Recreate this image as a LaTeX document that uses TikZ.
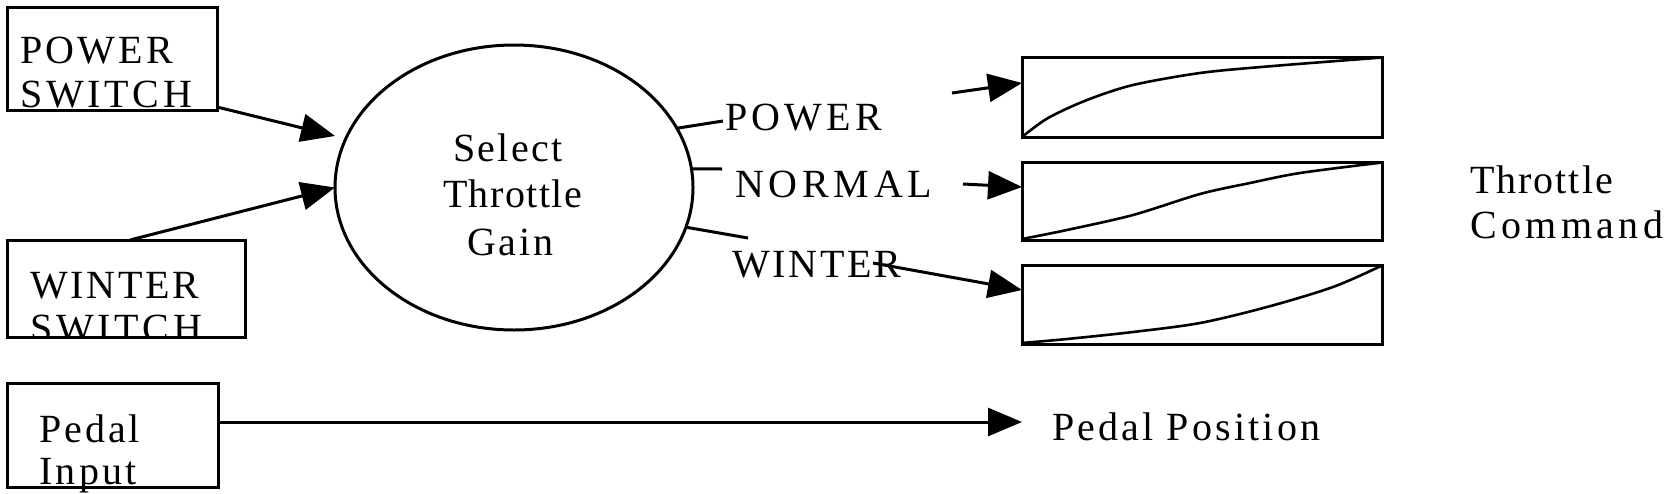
\documentclass[tikz,border=0pt]{standalone}
\usepackage{fontspec}
\setmainfont{Liberation Serif}
\usetikzlibrary{arrows.meta,shapes.geometric,calc}
\begin{document}
\begin{tikzpicture}[x=1pt,y=-1pt,
  box/.style={draw, line width=3pt, rectangle, inner sep=0pt, outer sep=0pt},
  oval/.style={draw, line width=3pt, ellipse, inner sep=0pt, outer sep=0pt},
  lbl/.style={inner sep=0pt, outer sep=0pt, anchor=base west},
  lsp/.style={font={\fontsize{40}{46}\selectfont\addfontfeature{LetterSpace=#1}}},
  conn/.style={line width=3pt},
  arr/.style={line width=3pt, -{Triangle[length=34pt,width=28pt]}},
  curve/.style={line width=2.6pt}]
\useasboundingbox (0,0) rectangle (1665,493);

% input boxes
\node[box, minimum width=210pt, minimum height=103pt] (ps) at (112,58.5) {};
\node[lbl, lsp=8] (ps1) at (20,63) {POWER};
\node[lbl, lsp=9.5] (ps2) at (20,107) {SWITCH};

\node[box, minimum width=238pt, minimum height=97pt] (ws) at (126,288.5) {};
\node[lbl, lsp=7] (ws1) at (30,298) {WINTER};
\begin{scope}
  \clip (7,240) rectangle (245,337);
  \node[lbl, lsp=9.5] (ws2) at (30,341) {SWITCH};
\end{scope}

\node[box, minimum width=211pt, minimum height=104pt] (pi) at (112.5,435) {};
\node[lbl, lsp=7.5] (pi1) at (39,442) {Pedal};
\node[lbl, lsp=8.5] (pi2) at (39,484) {Input};

% process
\node[oval, minimum width=358pt, minimum height=285pt] (sel) at (514,187.5) {};
\node[lbl, lsp=6] (st1) at (453,161) {Select};
\node[lbl, lsp=3.6] (st2) at (443,207) {Throttle};
\node[lbl, lsp=7] (st3) at (467,255) {Gain};

% mode labels
\node[lbl, lsp=10.6] (pw) at (725,130) {POWER};
\node[lbl, lsp=12] (nm) at (735,197) {NORMAL};
\node[lbl, lsp=7] (wt) at (732,277) {WINTER};

% gain curve boxes
\node[box, minimum width=360pt, minimum height=80pt] (g1) at (1202,97) {};
\node[box, minimum width=360pt, minimum height=78pt] (g2) at (1202,201) {};
\node[box, minimum width=360pt, minimum height=79pt] (g3) at (1202,304.5) {};

\draw[curve] plot[smooth] coordinates {(1022,137) (1048,118) (1087,100) (1133,85) (1200,73) (1267,66.5) (1382,57.5)};
\draw[curve] plot[smooth] coordinates {(1022,239) (1067,230) (1133,215) (1200,194) (1250,183) (1300,173) (1382,162.5)};
\draw[curve] plot[smooth] coordinates {(1022,343) (1067,339) (1133,332) (1200,323) (1267,307) (1333,287) (1382,265.5)};

% outputs
\node[lbl, lsp=5] (tc1) at (1470,193) {Throttle};
\node[lbl, lsp=11] (tc2) at (1470,238) {Command};
\node[lbl, lsp=8] (pp) at (1052,440) {Pedal\hspace{13pt}Position};

% free arrow starts
\coordinate (a1) at (952,93);
\coordinate (a2) at (963,184);

% connectors
\draw[arr] ($(ps.south east)+(0,-3)$) -- ($(sel.west)+(0,-51.5)$);
\draw[arr] ($(ws.north)+(4,0)$) -- (sel.west);
\draw[arr] ($(pi.east)+(0,-13)$) -- ($(pp.base west)+(-30,-18)$);

\draw[conn] (sel.20.7) -- ($(pw.base west)+(-2,-9)$);
\draw[conn] (sel.6.5) -- ($(nm.base west)+(-13,-28)$);
\draw[conn] (sel.-13.2) -- ($(wt.base west)+(16,-39)$);

\draw[arr] (a1) -- ($(g1.west)+(0,-14)$);
\draw[arr] (a2) -- ($(g2.west)+(0,-14)$);
\draw[arr] ($(wt.base west)+(141,-14)$) -- ($(g3.west)+(0,-14.5)$);
\end{tikzpicture}
\end{document}
